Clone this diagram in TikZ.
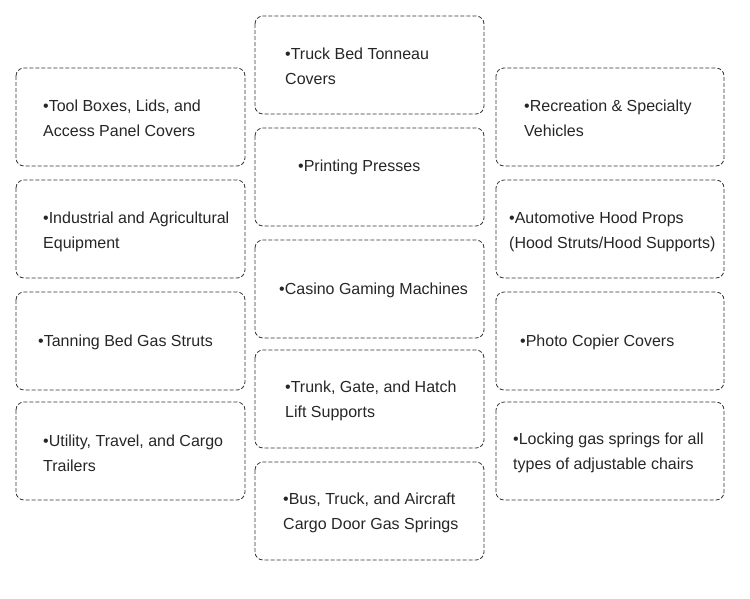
\documentclass[tikz,border=0pt]{standalone}
\usepackage{fontspec}
\setmainfont{Liberation Sans}
\begin{document}
\begin{tikzpicture}[x=1pt,y=-1pt,
  itembox/.style={draw=black!80, line width=0.8pt, dash pattern=on 4pt off 2pt, rounded corners=8pt},
  itemtext/.style={anchor=west, align=left, inner sep=0pt, font=\fontsize{16}{25}\selectfont, text=black!85}]
\useasboundingbox (0,0) rectangle (750,598);
% left column
\draw[itembox] (16,68) rectangle (245,166) node[pos=0.5] (l1) {};
\draw[itembox] (16,180) rectangle (245,278) node[pos=0.5] (l2) {};
\draw[itembox] (16,292) rectangle (245,390) node[pos=0.5] (l3) {};
\draw[itembox] (16,402) rectangle (245,500) node[pos=0.5] (l4) {};
% middle column
\draw[itembox] (255,16) rectangle (484,114) node[pos=0.5] (m1) {};
\draw[itembox] (255,128) rectangle (484,226) node[pos=0.5] (m2) {};
\draw[itembox] (255,240) rectangle (484,338) node[pos=0.5] (m3) {};
\draw[itembox] (255,350) rectangle (484,448) node[pos=0.5] (m4) {};
\draw[itembox] (255,462) rectangle (484,560) node[pos=0.5] (m5) {};
% right column
\draw[itembox] (496,68) rectangle (724,166) node[pos=0.5] (r1) {};
\draw[itembox] (496,180) rectangle (724,278) node[pos=0.5] (r2) {};
\draw[itembox] (496,292) rectangle (724,390) node[pos=0.5] (r3) {};
\draw[itembox] (496,402) rectangle (724,500) node[pos=0.5] (r4) {};
% texts
\node[itemtext] (tl1) at (43,118) {•Tool Boxes, Lids, and\\Access Panel Covers};
\node[itemtext] (tl2) at (43,232) {•Industrial and Agricultural\\Equipment};
\node[itemtext] (tl3) at (38,342.5) {•Tanning Bed Gas Struts};
\node[itemtext] (tl4) at (43,453) {•Utility, Travel, and Cargo\\Trailers};
\node[itemtext] (tm1) at (285,66) {•Truck Bed Tonneau\\Covers};
\node[itemtext] (tm2) at (298,167.5) {•Printing Presses};
\node[itemtext] (tm3) at (279,290.5) {•Casino Gaming Machines};
\node[itemtext] (tm4) at (285,401) {•Trunk, Gate, and Hatch\\Lift Supports};
\node[itemtext] (tm5) at (283,513) {•Bus, Truck, and Aircraft\\Cargo Door Gas Springs};
\node[itemtext] (tr1) at (524,118) {•Recreation \& Specialty\\Vehicles};
\node[itemtext] (tr2) at (509,232) {•Automotive Hood Props\\(Hood Struts/Hood Supports)};
\node[itemtext] (tr3) at (520,342.5) {•Photo Copier Covers};
\node[itemtext] (tr4) at (513,453) {•Locking gas springs for all\\types of adjustable chairs};
\end{tikzpicture}
\end{document}
